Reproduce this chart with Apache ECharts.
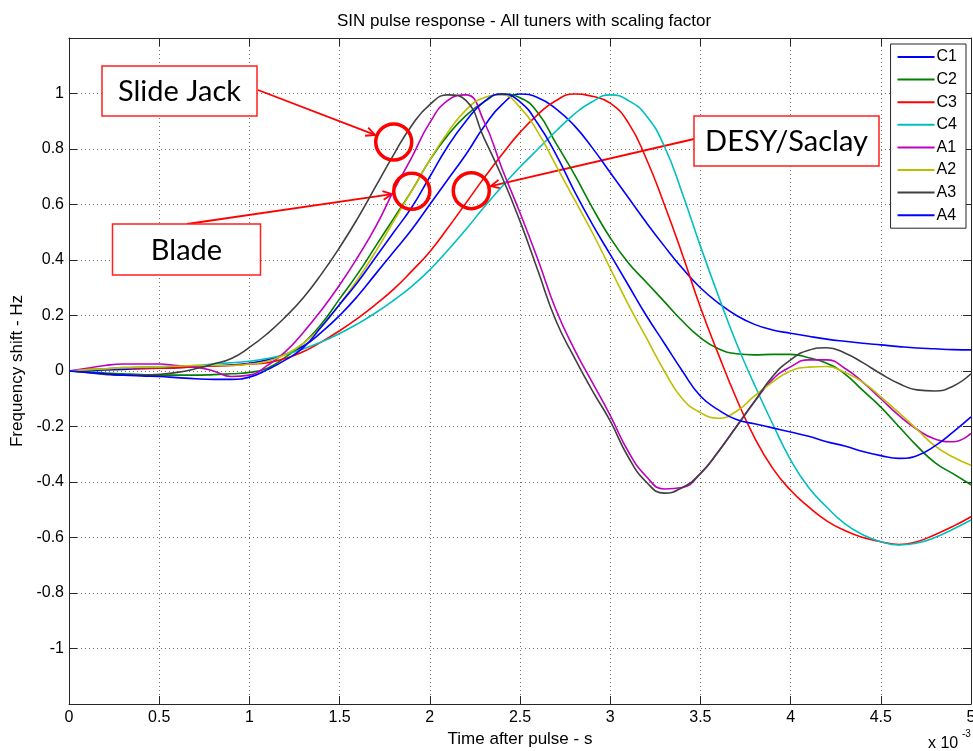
<!DOCTYPE html>
<html>
<head>
<meta charset="utf-8">
<title>SIN pulse response</title>
<script src="https://cdn.jsdelivr.net/npm/echarts@6/dist/echarts.min.js"></script>
<style>
    html, body { margin: 0; padding: 0; background: #fff; }
    #main { width: 973px; height: 751px; }
</style>
</head>
<body>
<div id="main"></div>
<script>
// time after pulse, in units of 1e-3 s
var timeMs = [0, 0.1, 0.2, 0.3, 0.4, 0.5, 0.6, 0.7, 0.8, 0.9,
    1.0, 1.1, 1.2, 1.3, 1.4, 1.5, 1.6, 1.7, 1.8, 1.9,
    2.0, 2.1, 2.2, 2.3, 2.4, 2.5, 2.6, 2.7, 2.8, 2.9,
    3.0, 3.1, 3.2, 3.3, 3.4, 3.5, 3.6, 3.7, 3.8, 3.9,
    4.0, 4.1, 4.2, 4.3, 4.4, 4.5, 4.6, 4.7, 4.8, 4.9, 5.0];

// frequency shift (Hz, scaled) per tuner
var c1 = [0, 0.002, 0.004, 0.006, 0.008, 0.01, 0.012, 0.015, 0.018, 0.022,
    0.028, 0.04, 0.06, 0.09, 0.14, 0.2, 0.27, 0.35, 0.43, 0.51,
    0.6, 0.69, 0.78, 0.88, 0.96, 0.998, 0.985, 0.945, 0.885, 0.805,
    0.715, 0.625, 0.535, 0.45, 0.37, 0.3, 0.245, 0.2, 0.168, 0.148,
    0.136, 0.125, 0.115, 0.107, 0.1, 0.094, 0.088, 0.083, 0.08, 0.077, 0.076];
var c2 = [0, -0.003, -0.007, -0.01, -0.013, -0.015, -0.015, -0.015, -0.013, -0.01,
    -0.005, 0.01, 0.05, 0.1, 0.17, 0.26, 0.35, 0.45, 0.55, 0.65,
    0.76, 0.85, 0.92, 0.97, 0.998, 0.985, 0.93, 0.82, 0.71, 0.59,
    0.48, 0.39, 0.32, 0.25, 0.18, 0.12, 0.08, 0.062, 0.058, 0.06,
    0.06, 0.048, 0.028, -0.01, -0.07, -0.13, -0.2, -0.27, -0.33, -0.37, -0.41];
var c3 = [0, 0.005, 0.008, 0.01, 0.01, 0.01, 0.012, 0.015, 0.018, 0.02,
    0.025, 0.03, 0.045, 0.07, 0.105, 0.145, 0.19, 0.24, 0.295, 0.36,
    0.43, 0.515, 0.605, 0.695, 0.78, 0.86, 0.925, 0.975, 0.998, 0.99,
    0.965, 0.895, 0.765, 0.6, 0.42, 0.23, 0.06, -0.1, -0.24, -0.35,
    -0.43, -0.49, -0.54, -0.575, -0.6, -0.615, -0.625, -0.615, -0.59, -0.56, -0.525];
var c4 = [0, 0.005, 0.008, 0.012, 0.014, 0.015, 0.018, 0.02, 0.025, 0.03,
    0.035, 0.045, 0.06, 0.08, 0.105, 0.135, 0.17, 0.21, 0.255, 0.305,
    0.365, 0.435, 0.51, 0.59, 0.665, 0.735, 0.8, 0.865, 0.925, 0.97,
    0.995, 0.975, 0.92, 0.81, 0.64, 0.45, 0.27, 0.1, -0.05, -0.19,
    -0.32, -0.42, -0.49, -0.55, -0.59, -0.615, -0.627, -0.62, -0.6, -0.57, -0.537];
var a1 = [0, 0.01, 0.02, 0.025, 0.025, 0.025, 0.02, 0.015, 0.0, -0.02,
    -0.015, 0.02, 0.07, 0.14, 0.22, 0.31, 0.41, 0.52, 0.65, 0.77,
    0.895, 0.975, 0.995, 0.9, 0.73, 0.57, 0.4, 0.22, 0.08, -0.04,
    -0.16, -0.29, -0.38, -0.425, -0.42, -0.37, -0.29, -0.2, -0.11, -0.03,
    0.015, 0.04, 0.04, 0.01, -0.04, -0.1, -0.16, -0.21, -0.245, -0.255, -0.225];
var a2 = [0, 0.005, 0.008, 0.012, 0.014, 0.015, 0.017, 0.02, 0.02, 0.02,
    0.025, 0.035, 0.06, 0.1, 0.16, 0.24, 0.33, 0.43, 0.54, 0.65,
    0.76, 0.86, 0.94, 0.985, 0.995, 0.95, 0.86, 0.74, 0.62, 0.5,
    0.37, 0.24, 0.12, 0.0, -0.1, -0.15, -0.17, -0.145, -0.09, -0.04,
    0.0, 0.014, 0.016, -0.005, -0.04, -0.093, -0.15, -0.21, -0.27, -0.31, -0.34];
var a3 = [0, -0.005, -0.012, -0.015, -0.015, -0.012, -0.005, 0.008, 0.025, 0.045,
    0.085, 0.135, 0.195, 0.265, 0.35, 0.445, 0.55, 0.665, 0.78, 0.885,
    0.96, 0.995, 0.975, 0.84, 0.7, 0.54, 0.36, 0.18, 0.05, -0.07,
    -0.18, -0.31, -0.4, -0.44, -0.42, -0.37, -0.29, -0.2, -0.11, -0.02,
    0.04, 0.075, 0.084, 0.065, 0.03, -0.01, -0.045, -0.068, -0.072, -0.055, -0.01];
var a4 = [0, -0.005, -0.01, -0.015, -0.018, -0.02, -0.024, -0.028, -0.03, -0.03,
    -0.022, 0.005, 0.04, 0.085, 0.16, 0.24, 0.32, 0.41, 0.5, 0.59,
    0.7, 0.81, 0.9, 0.97, 0.998, 0.97, 0.89, 0.78, 0.65, 0.53,
    0.42, 0.31, 0.2, 0.1, 0.0, -0.09, -0.14, -0.175, -0.19, -0.205,
    -0.22, -0.235, -0.255, -0.27, -0.29, -0.305, -0.315, -0.305, -0.27, -0.22, -0.165];

var seriesNames = ['C1', 'C2', 'C3', 'C4', 'A1', 'A2', 'A3', 'A4'];
var seriesValues = [c1, c2, c3, c4, a1, a2, a3, a4];
var seriesColors = ['#0000ff', '#008000', '#ff0000', '#00bfbf', '#bf00bf', '#bfbf00', '#404040', '#0000ff'];

// annotation circles, in data coordinates [t, shift]
var circlePoints = [[1.80, 0.825], [1.90, 0.648], [2.23, 0.65]];

var FONT = '"Liberation Sans", Arial, sans-serif';
var LABEL_FONT = 'Lato, "Open Sans", sans-serif';

var myChart = echarts.init(document.getElementById('main'));

var series = [];
for (var i = 0; i < seriesNames.length; i++) {
    var pts = [];
    for (var k = 0; k < timeMs.length; k++) {
        pts.push([timeMs[k], seriesValues[i][k]]);
    }
    series.push({
        name: seriesNames[i],
        type: 'line',
        data: pts,
        smooth: 0.5,
        showSymbol: false,
        symbol: 'none',
        color: seriesColors[i],
        lineStyle: {width: 1.6, color: seriesColors[i]},
        z: 2 + i
    });
}

var axisCol = '#262626';
var gridLine = {show: true, lineStyle: {color: '#707070', width: 1, type: [1, 3]}};

var option = {
    animation: false,
    backgroundColor: '#fff',
    title: {
        text: 'SIN pulse response - All tuners with scaling factor',
        left: 519,
        textAlign: 'center',
        top: 8,
        textStyle: {fontFamily: FONT, fontSize: 17, fontWeight: 'normal', color: '#000'}
    },
    grid: {left: 69, right: 2, top: 38, bottom: 47, containLabel: false, outerBoundsMode: 'none'},
    legend: {
        data: seriesNames,
        orient: 'vertical',
        right: 7,
        top: 44,
        padding: [5, 9, 5, 7],
        itemGap: 6.6,
        itemWidth: 37,
        itemHeight: 2,
        icon: 'rect',
        selectedMode: false,
        backgroundColor: '#fff',
        borderColor: axisCol,
        borderWidth: 1,
        borderRadius: 0,
        textStyle: {fontFamily: FONT, fontSize: 16, color: '#000', padding: [0, 0, 0, -3]}
    },
    xAxis: [
        {
            type: 'value', min: 0, max: 5, interval: 0.5,
            name: 'Time after pulse - s',
            nameLocation: 'middle',
            nameGap: 24,
            nameTextStyle: {fontFamily: FONT, fontSize: 17, color: '#000'},
            axisLine: {show: true, onZero: false, lineStyle: {color: axisCol}},
            axisTick: {show: true, inside: true, length: 8, lineStyle: {color: axisCol}},
            axisLabel: {fontFamily: FONT, fontSize: 16, color: '#000', margin: 6},
            splitLine: gridLine
        },
        {
            type: 'value', min: 0, max: 5, interval: 0.5, position: 'top',
            axisLine: {show: true, onZero: false, lineStyle: {color: axisCol}},
            axisTick: {show: true, inside: true, length: 8, lineStyle: {color: axisCol}},
            axisLabel: {show: false},
            splitLine: {show: false}
        }
    ],
    yAxis: [
        {
            type: 'value', min: -1.2, max: 1.2, interval: 0.2,
            name: 'Frequency shift - Hz',
            nameLocation: 'middle',
            nameGap: 39,
            nameTextStyle: {fontFamily: FONT, fontSize: 17, color: '#000'},
            axisLine: {show: true, onZero: false, lineStyle: {color: axisCol}},
            axisTick: {show: true, inside: true, length: 8, lineStyle: {color: axisCol}},
            axisLabel: {
                fontFamily: FONT, fontSize: 16, color: '#000', margin: 5,
                formatter: function (v) {
                    if (Math.abs(Math.abs(v) - 1.2) < 1e-6) return '';
                    return String(parseFloat(v.toFixed(1)));
                }
            },
            splitLine: gridLine
        },
        {
            type: 'value', min: -1.2, max: 1.2, interval: 0.2, position: 'right',
            axisLine: {show: true, onZero: false, lineStyle: {color: axisCol}},
            axisTick: {show: true, inside: true, length: 8, lineStyle: {color: axisCol}},
            axisLabel: {show: false},
            splitLine: {show: false}
        }
    ],
    series: series
};

myChart.setOption(option);

// ---- annotations: boxes, arrows, circles ----
function labelBox(cx, cy, w, h, text) {
    return {
        type: 'group',
        z: 100,
        children: [
            {
                type: 'rect',
                shape: {x: cx - w / 2, y: cy - h / 2, width: w, height: h},
                style: {fill: '#fff', stroke: '#ff2020', lineWidth: 1.5}
            },
            {
                type: 'text',
                x: cx, y: cy + 1,
                style: {
                    text: text, fill: '#000', font: '29px ' + LABEL_FONT,
                    align: 'center', verticalAlign: 'middle'
                }
            }
        ]
    };
}

function arrow(from, center, r) {
    var dx = center[0] - from[0], dy = center[1] - from[1];
    var len = Math.sqrt(dx * dx + dy * dy);
    var ux = dx / len, uy = dy / len;
    var tip = [center[0] - ux * r, center[1] - uy * r];
    var hl = 10, ang = 0.45;
    var c = Math.cos(ang), s = Math.sin(ang);
    var b1 = [tip[0] - hl * (ux * c - uy * s), tip[1] - hl * (uy * c + ux * s)];
    var b2 = [tip[0] - hl * (ux * c + uy * s), tip[1] - hl * (uy * c - ux * s)];
    return {
        type: 'group',
        z: 99,
        children: [
            {type: 'line', shape: {x1: from[0], y1: from[1], x2: tip[0], y2: tip[1]},
                style: {stroke: '#ff0000', lineWidth: 1.8}},
            {type: 'polyline', shape: {points: [b1, tip, b2]},
                style: {stroke: '#ff0000', lineWidth: 1.8, fill: null}}
        ]
    };
}

var R = 18;
var centers = circlePoints.map(function (p) {
    return myChart.convertToPixel({xAxisIndex: 0, yAxisIndex: 0}, p);
});

var graphics = [];
graphics.push(arrow([258, 90], centers[0], R + 2));
graphics.push(arrow([187, 224], centers[1], R + 2));
graphics.push(arrow([694, 139], centers[2], R + 2));
centers.forEach(function (c) {
    graphics.push({
        type: 'circle', z: 101,
        shape: {cx: c[0], cy: c[1], r: R},
        style: {fill: null, stroke: '#ff0000', lineWidth: 3.5}
    });
});
graphics.push(labelBox(179.5, 91, 155, 50, 'Slide Jack'));
graphics.push(labelBox(186.5, 249.5, 148, 51, 'Blade'));
graphics.push(labelBox(786.5, 141, 185, 50, 'DESY/Saclay'));

// axis exponent
graphics.push({
    type: 'text', x: 928, y: 744, z: 100,
    style: {text: 'x 10', fill: '#000', font: '16px ' + FONT, verticalAlign: 'middle'}
});
graphics.push({
    type: 'text', x: 962, y: 734, z: 100,
    style: {text: '-3', fill: '#000', font: '10px ' + FONT, verticalAlign: 'middle'}
});

myChart.setOption({graphic: graphics});
</script>
</body>
</html>
